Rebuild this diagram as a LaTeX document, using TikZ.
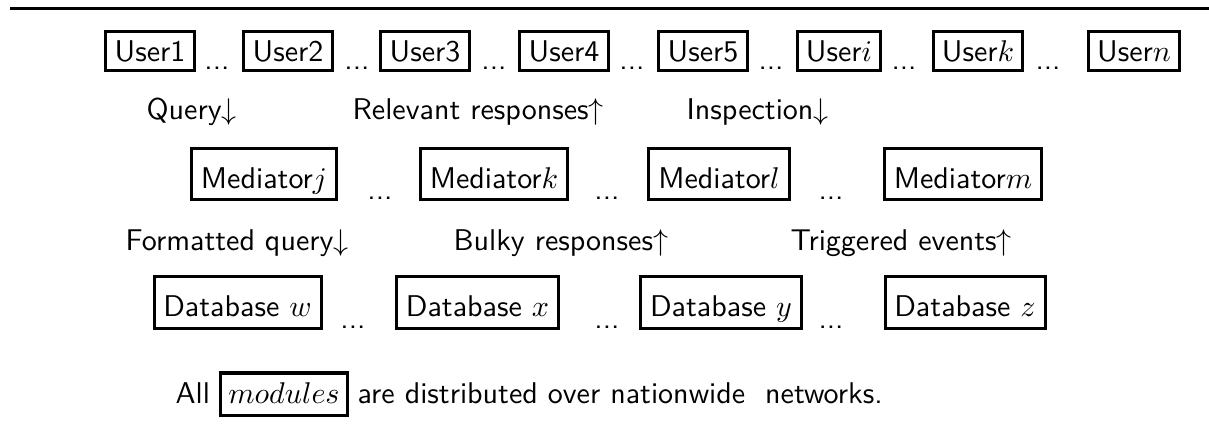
\documentclass[tikz,border=0pt]{standalone}
\usepackage{amsmath}
\usepackage{tikz}

\begin{document}
\begin{tikzpicture}[x=0.3333pt, y=-0.3333pt,
      ubox/.style={draw=black, line width=1pt,
                   inner xsep=2.9pt, inner ysep=3pt,
                   text height=7pt, text depth=0pt,
                   anchor=base, font=\sffamily},
      tbox/.style={ubox, inner xsep=3.1pt, text height=10.3pt, text depth=0.9pt},
      dts/.style={inner sep=0pt, anchor=base, font=\sffamily},
      lbl/.style={inner sep=0pt, anchor=base west, font=\sffamily},
    ]
    \useasboundingbox (0,0) rectangle (1209,429);
    %% top rule
    \draw[line width=1pt] (10,9) -- (1209,9);
    %% user row
    \foreach \nm/\cx [count=\i] in {1/150, 2/288, 3/425, 4/564, 5/703,
                                    $i$/839, $k$/978, $n$/1134}{
      \node[ubox] (u\i) at (\cx, 61.5) {User\nm};
    }
    \foreach \cx [count=\i] in {217, 357, 494, 632, 771, 904, 1048}{
      \node[dts] (ud\i) at (\cx, 70) {...};
    }
    %% first label row
    \node[lbl] (q1) at (146, 120) {Query$\downarrow$};
    \node[lbl] (q2) at (352, 120) {Relevant responses$\uparrow$};
    \node[lbl] (q3) at (686, 120) {Inspection$\downarrow$};
    %% mediator row
    \foreach \nm/\cx [count=\i] in {j/264, k/494, l/719, m/963}{
      \node[tbox] (m\i) at (\cx, 188) {Mediator$\nm$};
    }
    \foreach \cx [count=\i] in {380, 607, 831}{
      \node[dts] (md\i) at (\cx, 200) {...};
    }
    %% second label row
    \node[lbl] (f1) at (125, 250) {Formatted query$\downarrow$};
    \node[lbl] (f2) at (453, 250) {Bulky responses$\uparrow$};
    \node[lbl] (f3) at (790, 250) {Triggered events$\uparrow$};
    %% database row
    \foreach \nm/\cx [count=\i] in {w/237.5, x/477.5, y/721, z/965}{
      \node[tbox] (d\i) at (\cx, 316.5) {Database $\nm$};
    }
    \foreach \cx [count=\i] in {353, 607, 831}{
      \node[dts] (dd\i) at (\cx, 328) {...};
    }
    %% note line
    \node[lbl] (all) at (175, 403) {All};
    \node[ubox, inner xsep=2.6pt, text depth=1.2pt] (mod) at (284, 403) {$modules$};
    \node[lbl] (rest) at (357, 403) {are distributed over nationwide~~networks.};
\end{tikzpicture}
\end{document}
